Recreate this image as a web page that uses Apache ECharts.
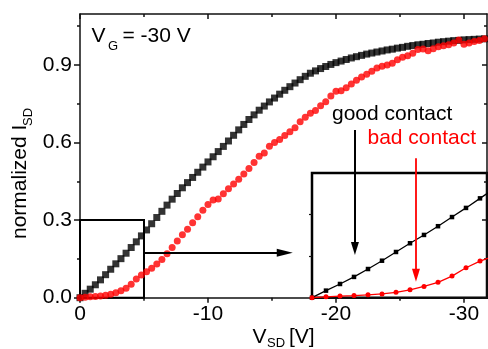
<!DOCTYPE html>
<html>
<head>
<meta charset="utf-8">
<script src="https://cdn.jsdelivr.net/npm/echarts@6/dist/echarts.min.js"></script>
<style>
  html, body { margin: 0; padding: 0; background: #fff; }
  #chart { width: 488px; height: 349px; }
</style>
</head>
<body>
<div id="chart"></div>
<script>
// source-drain voltage (V), 0.4 V steps
const vsd = [
  0, -0.4, -0.8, -1.2, -1.6, -2, -2.4, -2.8, -3.2, -3.6,
  -4, -4.4, -4.8, -5.2, -5.6, -6, -6.4, -6.8, -7.2, -7.6,
  -8, -8.4, -8.8, -9.2, -9.6, -10, -10.4, -10.8, -11.2, -11.6,
  -12, -12.4, -12.8, -13.2, -13.6, -14, -14.4, -14.8, -15.2, -15.6,
  -16, -16.4, -16.8, -17.2, -17.6, -18, -18.4, -18.8, -19.2, -19.6,
  -20, -20.4, -20.8, -21.2, -21.6, -22, -22.4, -22.8, -23.2, -23.6,
  -24, -24.4, -24.8, -25.2, -25.6, -26, -26.4, -26.8, -27.2, -27.6,
  -28, -28.4, -28.8, -29.2, -29.6, -30, -30.4, -30.8, -31.2, -31.6
];
// normalized I_SD, good contact (black squares)
const good = [
  0, 0.017, 0.033, 0.050, 0.069, 0.089, 0.110, 0.131, 0.151, 0.172,
  0.194, 0.216, 0.239, 0.262, 0.286, 0.310, 0.334, 0.358, 0.381, 0.403,
  0.425, 0.445, 0.465, 0.485, 0.505, 0.525, 0.545, 0.565, 0.585, 0.606,
  0.628, 0.649, 0.670, 0.689, 0.707, 0.725, 0.741, 0.757, 0.772, 0.787,
  0.802, 0.816, 0.830, 0.843, 0.856, 0.868, 0.877, 0.886, 0.894, 0.902,
  0.909, 0.915, 0.921, 0.927, 0.932, 0.937, 0.942, 0.946, 0.950, 0.954,
  0.958, 0.961, 0.965, 0.968, 0.972, 0.975, 0.978, 0.980, 0.983, 0.985,
  0.988, 0.990, 0.992, 0.994, 0.995, 0.997, 0.998, 0.999, 1.000, 1.001
];
// normalized I_SD, bad contact (red circles)
const bad = [
  0, 0.002, 0.004, 0.005, 0.007, 0.009, 0.013, 0.019, 0.027, 0.037,
  0.052, 0.072, 0.088, 0.100, 0.114, 0.130, 0.148, 0.170, 0.194, 0.219,
  0.243, 0.265, 0.290, 0.313, 0.338, 0.360, 0.378, 0.382, 0.402, 0.421,
  0.440, 0.458, 0.478, 0.500, 0.523, 0.547, 0.560, 0.586, 0.600, 0.612,
  0.627, 0.642, 0.657, 0.680, 0.698, 0.713, 0.724, 0.742, 0.758, 0.780,
  0.798, 0.800, 0.812, 0.826, 0.841, 0.853, 0.864, 0.876, 0.888, 0.895,
  0.900, 0.907, 0.920, 0.930, 0.936, 0.945, 0.960, 0.962, 0.955, 0.963,
  0.970, 0.974, 0.978, 0.985, 0.996, 0.980, 0.985, 0.991, 0.995, 1.001
];

const xMajor = [0, -10, -20, -30];
const xMinor = [-5, -15, -25];
const yMajor = [0, 0.3, 0.6, 0.9];
const yMinor = [0.15, 0.45, 0.75, 1.05];
const insetYTicks = [0.1, 0.2];

const FONT = '"Liberation Sans", Arial, sans-serif';
const RED = '#ff0000';

const goodPts = vsd.map((v, i) => [v, good[i]]);
const badPts = vsd.map((v, i) => [v, bad[i]]);

function xAx(o) {
  return Object.assign({
    type: 'value', gridIndex: 0, inverse: true, min: -31.8, max: 0,
    axisLine: { show: false, onZero: false },
    axisTick: { show: false },
    axisLabel: { show: false },
    splitLine: { show: false }
  }, o);
}
function yAx(o) {
  return Object.assign({
    type: 'value', gridIndex: 0, min: 0, max: 1.097,
    axisLine: { show: false, onZero: false },
    axisTick: { show: false },
    axisLabel: { show: false },
    splitLine: { show: false }
  }, o);
}
const lineSt = { color: '#111', width: 1.5 };

const chart = echarts.init(document.getElementById('chart'));
chart.setOption({
  animation: false,
  textStyle: { fontFamily: FONT },
  grid: [
    { left: 80, top: 14, right: 1, bottom: 51.3, outerBoundsMode: 'none' },
    { left: 312, top: 173, width: 175, height: 124.7, show: true,
      borderColor: '#000', borderWidth: 2.5, backgroundColor: 'transparent', outerBoundsMode: 'none' }
  ],
  xAxis: [
    xAx({ position: 'bottom',
      axisLine: { show: true, onZero: false, lineStyle: lineSt },
      axisTick: { show: true, customValues: xMajor, length: 5, lineStyle: lineSt },
      axisLabel: { show: true, customValues: xMajor, fontSize: 21, color: '#000', margin: 6, fontFamily: FONT } }),
    xAx({ position: 'bottom',
      axisTick: { show: true, customValues: xMinor, length: 3, lineStyle: lineSt } }),
    xAx({ position: 'top',
      axisLine: { show: true, onZero: false, lineStyle: lineSt },
      axisTick: { show: true, inside: true, customValues: xMajor, length: 5, lineStyle: lineSt } }),
    xAx({ position: 'top',
      axisTick: { show: true, inside: true, customValues: xMinor, length: 3, lineStyle: lineSt } }),
    { type: 'value', gridIndex: 1, inverse: true, min: -5, max: 0, show: false }
  ],
  yAxis: [
    yAx({ position: 'left',
      axisLine: { show: true, onZero: false, lineStyle: lineSt },
      axisTick: { show: true, customValues: yMajor, length: 6, lineStyle: lineSt },
      axisLabel: { show: true, customValues: yMajor, fontSize: 21, color: '#000', margin: 8, fontFamily: FONT,
        formatter: v => v.toFixed(1) } }),
    yAx({ position: 'left',
      axisTick: { show: true, customValues: yMinor, length: 3, lineStyle: lineSt } }),
    yAx({ position: 'right',
      axisLine: { show: true, onZero: false, lineStyle: lineSt },
      axisTick: { show: true, inside: true, customValues: yMajor, length: 5, lineStyle: lineSt } }),
    yAx({ position: 'right',
      axisTick: { show: true, inside: true, customValues: yMinor, length: 3, lineStyle: lineSt } }),
    { type: 'value', gridIndex: 1, min: 0, max: 0.3, position: 'left',
      axisLine: { show: false, onZero: false },
      axisTick: { show: true, customValues: insetYTicks, length: 3, lineStyle: { color: '#111', width: 1.2 } },
      axisLabel: { show: false }, splitLine: { show: false } }
  ],
  series: [
    {
      name: 'good contact', type: 'scatter', xAxisIndex: 0, yAxisIndex: 0,
      data: goodPts, symbol: 'rect', symbolSize: 7,
      itemStyle: { color: '#000' }, silent: true,
      markArea: {
        silent: true,
        itemStyle: { color: 'rgba(0,0,0,0)', borderColor: '#000', borderWidth: 2 },
        data: [[{ coord: [0, 0] }, { coord: [-5, 0.3] }]]
      },
      markLine: {
        silent: true, animation: false,
        symbol: ['none', 'triangle'],
        label: { show: false },
        lineStyle: { color: '#000', width: 2, type: 'solid' },
        data: [
          [{ coord: [-21.48, 0.648], symbolSize: [8, 13] }, { coord: [-21.48, 0.19], symbolSize: [8, 13] }],
          [{ coord: [-5, 0.174], symbolSize: [8, 16] }, { coord: [-16.0, 0.174], symbolSize: [8, 16] }]
        ]
      }
    },
    {
      name: 'bad contact', type: 'scatter', xAxisIndex: 0, yAxisIndex: 0,
      data: badPts, symbol: 'circle', symbolSize: 7,
      itemStyle: { color: RED }, silent: true,
      markLine: {
        silent: true, animation: false,
        symbol: ['none', 'triangle'],
        label: { show: false },
        lineStyle: { color: RED, width: 1.8, type: 'solid' },
        data: [
          [{ coord: [-26.25, 0.539], symbolSize: [8, 13] }, { coord: [-26.25, 0.087], symbolSize: [8, 13] }]
        ]
      }
    },
    {
      name: 'good inset', type: 'line', xAxisIndex: 4, yAxisIndex: 4,
      data: goodPts, symbol: 'rect', symbolSize: 4.5, showSymbol: true, clip: true,
      itemStyle: { color: '#000' }, lineStyle: { color: '#000', width: 1.3 }, silent: true
    },
    {
      name: 'bad inset', type: 'line', xAxisIndex: 4, yAxisIndex: 4,
      data: badPts, symbol: 'circle', symbolSize: 5, showSymbol: true, clip: true,
      itemStyle: { color: RED }, lineStyle: { color: RED, width: 1.3 }, silent: true
    }
  ],
  graphic: [
    { type: 'text', x: 91.5, y: 36, style: { text: 'V', font: '21px ' + FONT, fill: '#000', textAlign: 'left', textVerticalAlign: 'middle' } },
    { type: 'text', x: 108, y: 46, style: { text: 'G', font: '13px ' + FONT, fill: '#000', textAlign: 'left', textVerticalAlign: 'middle' } },
    { type: 'text', x: 122.5, y: 36, style: { text: '= -30 V', font: '21px ' + FONT, fill: '#000', textAlign: 'left', textVerticalAlign: 'middle' } },
    { type: 'text', x: 332, y: 114.4, style: { text: 'good contact', font: '21px ' + FONT, fill: '#000', textAlign: 'left', textVerticalAlign: 'middle' } },
    { type: 'text', x: 367.5, y: 138.7, style: { text: 'bad contact', font: '21px ' + FONT, fill: RED, textAlign: 'left', textVerticalAlign: 'middle' } },
    { type: 'text', x: 20.5, y: 239, rotation: Math.PI / 2, style: { text: 'normalized I', font: '21px ' + FONT, fill: '#000', textAlign: 'left', textVerticalAlign: 'middle' } },
    { type: 'text', x: 28.5, y: 126, rotation: Math.PI / 2, style: { text: 'SD', font: '13px ' + FONT, fill: '#000', textAlign: 'left', textVerticalAlign: 'middle' } },
    { type: 'text', x: 252.5, y: 337.2, style: { text: 'V', font: '21px ' + FONT, fill: '#000', textAlign: 'left', textVerticalAlign: 'middle' } },
    { type: 'text', x: 267, y: 343.5, style: { text: 'SD', font: '13px ' + FONT, fill: '#000', textAlign: 'left', textVerticalAlign: 'middle' } },
    { type: 'text', x: 289, y: 337.2, style: { text: '[V]', font: '21px ' + FONT, fill: '#000', textAlign: 'left', textVerticalAlign: 'middle' } }
  ]
});
</script>
</body>
</html>
